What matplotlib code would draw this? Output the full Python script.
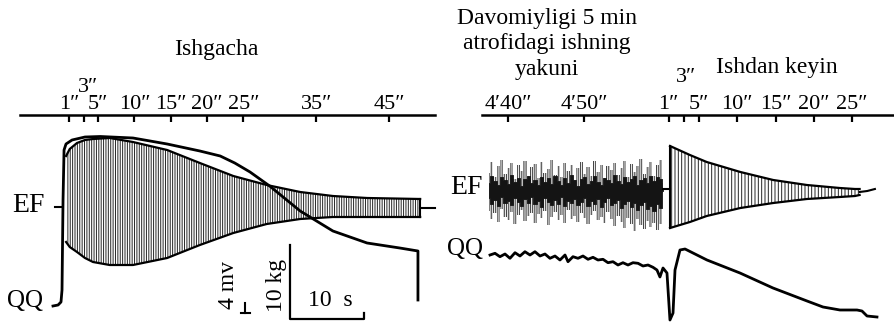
import matplotlib
matplotlib.use('Agg')
import matplotlib.pyplot as plt

plt.rcParams['font.family'] = ['Liberation Serif', 'DejaVu Serif']
plt.rcParams['font.size'] = 16
plt.rcParams['hatch.linewidth'] = 0.7

# --- before work (seconds, arbitrary amplitude) ---
pre_ticks = [1, 3, 5, 10, 15, 20, 25, 35, 45]
pre_labels = ['1″', '', '5″', '10″', '15″', '20″', '25″', '35″', '45″']

ef_t = [0.6, 1.1, 2.1, 3.2, 4.3, 6.6, 9.8, 14.5, 19.0, 23.6, 28.2, 32.8, 37.3, 42.0, 49.3]
ef_upper = [167, 174, 180, 183, 184, 185, 181, 173, 160, 147, 138, 131, 127, 125, 124]
ef_lower = [81, 76, 71, 65, 61, 58, 58, 65, 78, 90, 99, 104, 106, 106, 106]

qq_t = [-1.2, -0.5, -0.1, 0.04, 0.18, 0.32, 0.59, 1.42, 3.2, 5.3, 9.8, 14.5, 19.0, 21.8,
        23.8, 25.9, 28.6, 32.8, 37.3, 42.0, 46.5, 49.0, 49.0]
qq = [17, 18, 21, 33, 123, 173, 179, 183, 186, 186.5, 185, 179, 172, 167,
      160, 151, 137, 112, 92, 80, 75, 72, 23]

# --- end of ~5 min work and after work ---
post_ticks = [280, 290, 301, 303, 305, 310, 315, 320, 325]
post_labels = ['4′40″', '4′50″', '1″', '', '5″', '10″', '15″', '20″', '25″']

noise_t = [277.5, 277.9, 278.3, 278.8, 279.2, 279.6, 280.1, 280.5, 280.9, 281.4,
           281.8, 282.2, 282.7, 283.1, 283.5, 284.0, 284.4, 284.8, 285.3, 285.7,
           286.1, 286.6, 287.0, 287.4, 287.9, 288.3, 288.7, 289.2, 289.6, 290.0,
           290.5, 290.9, 291.3, 291.8, 292.2, 292.6, 293.1, 293.5, 293.9, 294.4,
           294.8, 295.2, 295.7, 296.1, 296.5, 297.0, 297.4, 297.8, 298.3, 298.7,
           299.1, 299.6, 300.0, 300.3]
noise_outer_up = [150, 161, 146, 157, 163, 149, 155, 160, 144, 158,
                  152, 162, 147, 156, 159, 145, 161, 150, 154, 163,
                  148, 157, 146, 160, 152, 158, 143, 155, 161, 149,
                  156, 147, 162, 151, 158, 145, 157, 153, 160, 148,
                  155, 162, 146, 159, 151, 157, 164, 149, 156, 161,
                  147, 158, 163, 140]
noise_core_up = [140, 147, 142, 138, 146, 143, 139, 148, 141, 145,
                 137, 144, 147, 140, 143, 138, 146, 141, 145, 139,
                 147, 142, 138, 145, 140, 148, 143, 137, 144, 146,
                 139, 142, 147, 141, 138, 145, 143, 140, 148, 142,
                 139, 146, 141, 144, 147, 138, 143, 145, 140, 147,
                 142, 146, 144, 134]
noise_core_lo = [125, 119, 123, 117, 126, 120, 122, 118, 125, 121,
                 117, 124, 120, 126, 119, 122, 116, 125, 121, 118,
                 123, 119, 126, 117, 122, 120, 124, 118, 121, 125,
                 117, 122, 119, 124, 116, 121, 125, 118, 120, 123,
                 115, 119, 122, 116, 120, 113, 118, 121, 114, 117,
                 112, 119, 115, 132]
noise_outer_lo = [112, 104, 110, 101, 114, 106, 103, 111, 99, 108,
                  113, 102, 107, 110, 100, 109, 105, 112, 98, 106,
                  111, 103, 108, 100, 113, 104, 107, 101, 110, 105,
                  99, 108, 112, 103, 106, 100, 111, 104, 97, 107,
                  101, 95, 105, 99, 92, 104, 98, 94, 102, 96,
                  100, 93, 99, 130]

post_ef_t = [301.2, 303.8, 306.0, 310.4, 314.7, 319.1, 323.4, 325.4, 326.0]
post_ef_upper = [177, 168, 161, 151, 143, 138, 135, 134, 134]
post_ef_lower = [95, 101, 107, 115, 120, 124, 126, 127, 128]

post_qq_t = [277.65, 278.30, 278.95, 279.61, 280.26, 280.92, 281.57, 282.22, 282.88, 283.53,
             284.19, 284.84, 285.49, 286.15, 286.80, 287.46, 287.85, 288.50, 289.16, 289.81,
             290.47, 291.12, 291.77, 292.43, 293.08, 293.74, 294.39, 295.04, 295.70, 296.35,
             297.01, 297.66, 298.32, 298.97, 299.49, 299.88, 300.28, 300.80, 301.19, 301.59,
             301.85, 302.50, 303.16, 306.03, 310.35, 314.67, 319.12, 321.21, 323.43, 325.66,
             326.31, 326.97, 328.27]
post_qq = [68, 69.7, 66.3, 69, 64.7, 70.3, 67, 71.3, 68, 71.3,
           67, 69, 64.7, 67, 63, 68, 61.3, 66.3, 64.7, 67,
           63.7, 65.7, 63, 63.7, 60.3, 61.3, 58, 60.3, 58, 60.3,
           59.7, 57, 58, 55.7, 53, 46, 55, 50, 3, 10,
           53, 73, 74, 63, 50, 35, 22, 16, 13, 13,
           12, 7, 6]

fig = plt.figure(figsize=(8.95, 3.23), dpi=100)
ax1 = fig.add_axes([0, 0, 445 / 895, 1])
ax2 = fig.add_axes([445 / 895, 0, 450 / 895, 1])
ax1.set_xlim(-8.49, 52.72)
ax2.set_xlim(271.76, 330.63)

for ax, ticks, labels, lo, hi in [(ax1, pre_ticks, pre_labels, -5.74, 51.4),
                                  (ax2, post_ticks, post_labels, 276.6, 330.6)]:
    ax.set_ylim(0, 323)
    ax.patch.set_visible(False)
    for s in ['left', 'right', 'bottom']:
        ax.spines[s].set_visible(False)
    ax.spines['top'].set_position(('data', 208))
    ax.spines['top'].set_bounds(lo, hi)
    ax.spines['top'].set_linewidth(1.8)
    ax.set_yticks([])
    ax.xaxis.tick_top()
    ax.set_xticks(ticks)
    ax.set_xticklabels(labels)
    ax.tick_params(axis='x', direction='in', length=5, width=1.6, pad=1, labelsize=16)

# left panel
ax1.fill_between(ef_t, ef_lower, ef_upper, facecolor='none', edgecolor='0.15', linewidth=0,
                 hatch='|' * 7)
ax1.plot(ef_t, ef_upper, color='black', lw=1.6)
ax1.plot(ef_t, ef_lower, color='black', lw=1.6)
ax1.plot([ef_t[-1], ef_t[-1]], [ef_lower[-1], ef_upper[-1]], color='black', lw=1.5)
ax1.plot([-0.92, 0.04], [116, 116], color='black', lw=1.5)
ax1.plot([ef_t[-1], 51.3], [115, 115], color='black', lw=1.5)
ax1.plot(qq_t, qq, color='black', lw=2.0)

# calibration bars
ax1.plot([24.66, 25.9], [10, 10], color='black', lw=1.5)
ax1.plot([25.2, 25.2], [10, 20], color='black', lw=1.5)
ax1.plot([31.4, 31.4, 41.6, 41.6], [78, 4, 4, 10], color='black', lw=1.6)
ax1.text(23.0, 38, '4 mv', rotation=90, ha='center', va='center', fontsize=17)
ax1.text(29.6, 38, '10 kg', rotation=90, ha='center', va='center', fontsize=17)
ax1.text(36.9, 23, '10  s', ha='center', va='center', fontsize=17)

ax1.text(21.2, 273, 'Ishgacha', ha='center', va='center', fontsize=17)
ax1.text(3.6, 235, '3″', ha='center', va='center')
ax1.text(-2.3, 118, 'EF', ha='right', va='center', fontsize=20)
ax1.text(-2.57, 22, 'QQ', ha='right', va='center', fontsize=18)

# right panel
ax2.fill_between(noise_t, noise_outer_lo, noise_outer_up, step='mid', facecolor='none',
                 edgecolor='0.25', linewidth=0, hatch='|' * 9)
ax2.fill_between(noise_t, noise_core_lo, noise_core_up, step='mid', facecolor='0.08',
                 edgecolor='0.08', linewidth=0.6)
ax2.plot([300.3, 301.2], [134, 134], color='black', lw=1.5)
ax2.fill_between(post_ef_t, post_ef_lower, post_ef_upper, facecolor='none', edgecolor='0.15',
                 linewidth=0, hatch='|' * 5)
ax2.plot(post_ef_t, post_ef_upper, color='black', lw=1.6)
ax2.plot(post_ef_t, post_ef_lower, color='black', lw=1.6)
ax2.plot([post_ef_t[0], post_ef_t[0]], [post_ef_lower[0], post_ef_upper[0]], color='black', lw=1.5)
ax2.plot([post_ef_t[-1], 327.0, 328.0], [131, 132, 134], color='black', lw=1.5)
ax2.plot(post_qq_t, post_qq, color='black', lw=2.0)

ax2.text(285.1, 279, 'Davomiyligi 5 min\natrofidagi ishning\nyakuni', ha='center',
         va='center', linespacing=1.3, fontsize=17)
ax2.text(315.2, 255, 'Ishdan keyin', ha='center', va='center', fontsize=17)
ax2.text(303.3, 246, '3″', ha='center', va='center')
ax2.text(276.73, 136, 'EF', ha='right', va='center', fontsize=20)
ax2.text(276.73, 74, 'QQ', ha='right', va='center', fontsize=18)

fig.savefig('out.png', dpi=100)
